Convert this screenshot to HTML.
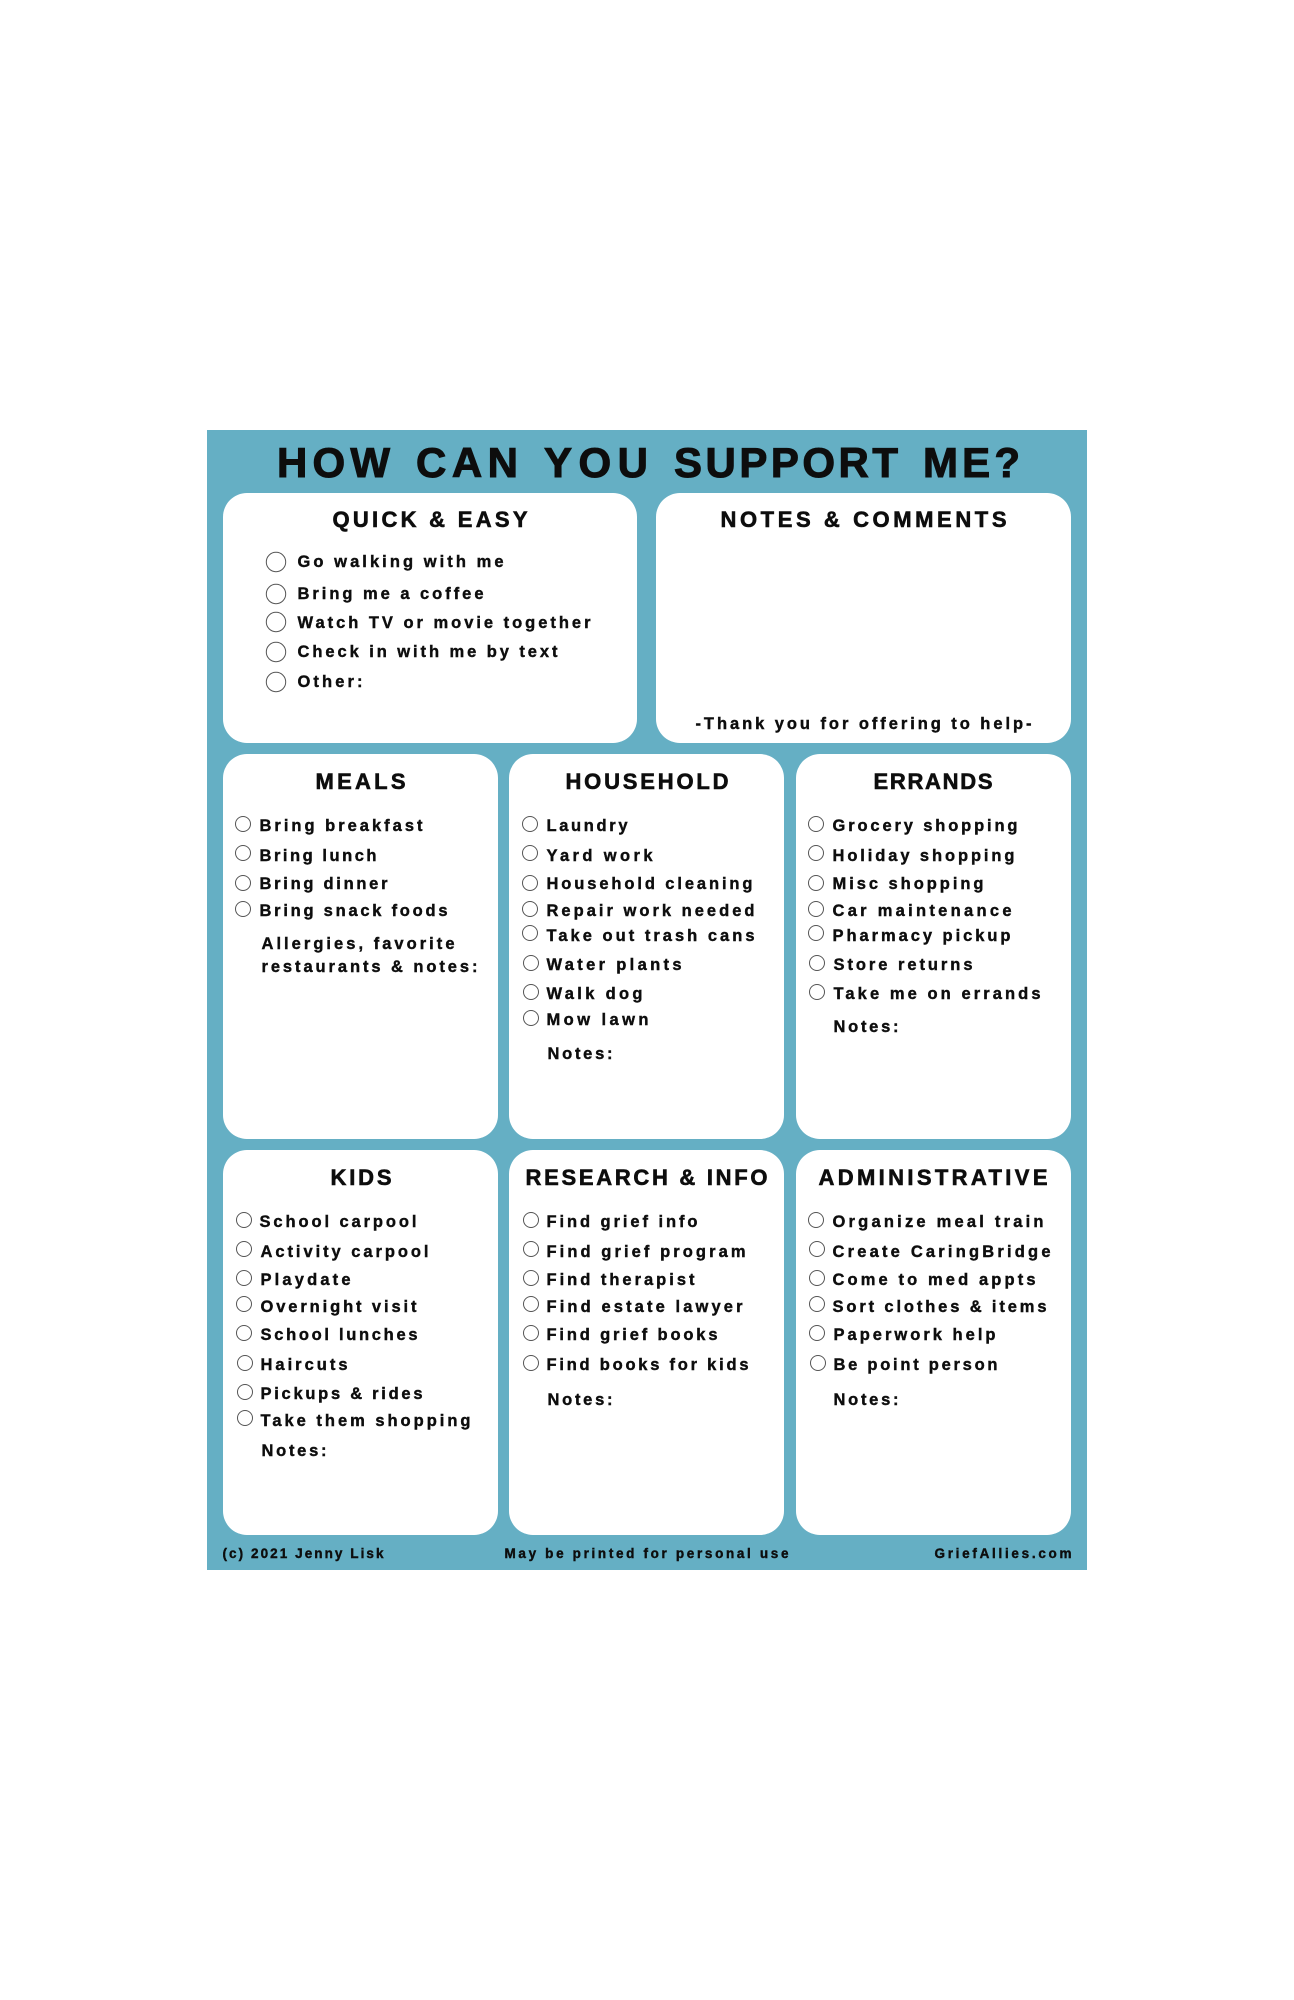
<!DOCTYPE html>
<html><head><meta charset="utf-8">
<style>
html,body{margin:0;padding:0;background:#fff}
svg{display:block}
text{font-family:"Liberation Sans",sans-serif;font-weight:700;fill:#0b0b0b;stroke:#0b0b0b;stroke-width:.4;filter:url(#b);transform:translateX(-.5px)}
.t{font-size:42px;stroke-width:1;transform:translate(0,-1px)}.h{font-size:22px;stroke-width:.6}.i{font-size:16.5px}.f{font-size:13.5px;transform:translate(-.5px,-1px)}
circle{fill:#fff;stroke:#555;stroke-width:1}
rect.c{fill:#fff}
</style></head><body>
<svg width="1294" height="2000" viewBox="0 0 1294 2000" xmlns="http://www.w3.org/2000/svg">
<defs><filter id="b" x="-5%" y="-30%" width="110%" height="160%"><feGaussianBlur stdDeviation="0.35"/></filter></defs>
<rect width="1294" height="2000" fill="#fff"/>
<rect x="207" y="430" width="880" height="1140" fill="#65afc4"/>
<rect class="c" x="223" y="493" width="414" height="250" rx="24"/>
<rect class="c" x="656" y="493" width="415" height="250" rx="24"/>
<rect class="c" x="223" y="754" width="275" height="385" rx="24"/>
<rect class="c" x="509" y="754" width="275" height="385" rx="24"/>
<rect class="c" x="796" y="754" width="275" height="385" rx="24"/>
<rect class="c" x="223" y="1150" width="275" height="385" rx="24"/>
<rect class="c" x="509" y="1150" width="275" height="385" rx="24"/>
<rect class="c" x="796" y="1150" width="275" height="385" rx="24"/>

<text class="t" x="277" y="478" textLength="113">HOW</text>
<text class="t" x="416" y="478" textLength="102">CAN</text>
<text class="t" x="544" y="478" textLength="104">YOU</text>
<text class="t" x="674" y="478" textLength="224">SUPPORT</text>
<text class="t" x="923" y="478" textLength="97">ME?</text>
<text class="h" x="333" y="527" textLength="195">QUICK &amp; EASY</text>
<text class="h" x="721" y="527" textLength="286">NOTES &amp; COMMENTS</text>
<text class="h" x="316" y="789" textLength="90">MEALS</text>
<text class="h" x="566" y="789" textLength="163">HOUSEHOLD</text>
<text class="h" x="874" y="789" textLength="119">ERRANDS</text>
<text class="h" x="331" y="1185" textLength="61">KIDS</text>
<text class="h" x="526" y="1185" textLength="242">RESEARCH &amp; INFO</text>
<text class="h" x="819" y="1185" textLength="229">ADMINISTRATIVE</text>

<g>
<circle cx="276" cy="562" r="9.7"/><circle cx="276" cy="594" r="9.7"/><circle cx="276" cy="622" r="9.7"/><circle cx="276" cy="652" r="9.7"/><circle cx="276" cy="682" r="9.7"/>
<circle cx="243" cy="824" r="7.5"/><circle cx="243" cy="853" r="7.5"/><circle cx="243" cy="883" r="7.5"/><circle cx="243" cy="909" r="7.5"/>
<circle cx="530" cy="824" r="7.5"/><circle cx="530" cy="853" r="7.5"/><circle cx="530" cy="883" r="7.5"/><circle cx="530" cy="909" r="7.5"/><circle cx="530" cy="933" r="7.5"/><circle cx="531" cy="963" r="7.5"/><circle cx="531" cy="992" r="7.5"/><circle cx="531" cy="1018" r="7.5"/>
<circle cx="816" cy="824" r="7.5"/><circle cx="816" cy="853" r="7.5"/><circle cx="816" cy="883" r="7.5"/><circle cx="816" cy="909" r="7.5"/><circle cx="816" cy="933" r="7.5"/><circle cx="817" cy="963" r="7.5"/><circle cx="817" cy="992" r="7.5"/>
<circle cx="244" cy="1220" r="7.5"/><circle cx="244" cy="1249" r="7.5"/><circle cx="244" cy="1278" r="7.5"/><circle cx="244" cy="1304" r="7.5"/><circle cx="244" cy="1333" r="7.5"/><circle cx="245" cy="1363" r="7.5"/><circle cx="245" cy="1392" r="7.5"/><circle cx="245" cy="1418" r="7.5"/>
<circle cx="531" cy="1220" r="7.5"/><circle cx="531" cy="1249" r="7.5"/><circle cx="531" cy="1278" r="7.5"/><circle cx="531" cy="1304" r="7.5"/><circle cx="531" cy="1333" r="7.5"/><circle cx="531" cy="1363" r="7.5"/>
<circle cx="816" cy="1220" r="7.5"/><circle cx="817" cy="1249" r="7.5"/><circle cx="817" cy="1278" r="7.5"/><circle cx="817" cy="1304" r="7.5"/><circle cx="817" cy="1333" r="7.5"/><circle cx="818" cy="1363" r="7.5"/>
</g>

<text class="i" x="298" y="567" textLength="206">Go walking with me</text>
<text class="i" x="298" y="599" textLength="186">Bring me a coffee</text>
<text class="i" x="298" y="628" textLength="293">Watch TV or movie together</text>
<text class="i" x="298" y="657" textLength="260">Check in with me by text</text>
<text class="i" x="298" y="687" textLength="65">Other:</text>
<text class="i" x="696" y="729" textLength="336">-Thank you for offering to help-</text>

<text class="i" x="260" y="831" textLength="163">Bring breakfast</text>
<text class="i" x="260" y="861" textLength="117">Bring lunch</text>
<text class="i" x="260" y="889" textLength="128">Bring dinner</text>
<text class="i" x="260" y="916" textLength="188">Bring snack foods</text>
<text class="i" x="262" y="949" textLength="193">Allergies, favorite</text>
<text class="i" x="262" y="972" textLength="216">restaurants &amp; notes:</text>

<text class="i" x="547" y="831" textLength="81">Laundry</text>
<text class="i" x="547" y="861" textLength="106">Yard work</text>
<text class="i" x="547" y="889" textLength="206">Household cleaning</text>
<text class="i" x="547" y="916" textLength="208">Repair work needed</text>
<text class="i" x="547" y="941" textLength="208">Take out trash cans</text>
<text class="i" x="547" y="970" textLength="135">Water plants</text>
<text class="i" x="547" y="999" textLength="96">Walk dog</text>
<text class="i" x="547" y="1025" textLength="102">Mow lawn</text>
<text class="i" x="548" y="1059" textLength="65">Notes:</text>

<text class="i" x="833" y="831" textLength="185">Grocery shopping</text>
<text class="i" x="833" y="861" textLength="182">Holiday shopping</text>
<text class="i" x="833" y="889" textLength="151">Misc shopping</text>
<text class="i" x="833" y="916" textLength="179">Car maintenance</text>
<text class="i" x="833" y="941" textLength="178">Pharmacy pickup</text>
<text class="i" x="834" y="970" textLength="139">Store returns</text>
<text class="i" x="834" y="999" textLength="207">Take me on errands</text>
<text class="i" x="834" y="1032" textLength="65">Notes:</text>

<text class="i" x="260" y="1227" textLength="157">School carpool</text>
<text class="i" x="261" y="1257" textLength="168">Activity carpool</text>
<text class="i" x="261" y="1285" textLength="90">Playdate</text>
<text class="i" x="261" y="1312" textLength="156">Overnight visit</text>
<text class="i" x="261" y="1340" textLength="157">School lunches</text>
<text class="i" x="261" y="1370" textLength="87">Haircuts</text>
<text class="i" x="261" y="1399" textLength="162">Pickups &amp; rides</text>
<text class="i" x="261" y="1426" textLength="210">Take them shopping</text>
<text class="i" x="262" y="1456" textLength="65">Notes:</text>

<text class="i" x="547" y="1227" textLength="151">Find grief info</text>
<text class="i" x="547" y="1257" textLength="199">Find grief program</text>
<text class="i" x="547" y="1285" textLength="148">Find therapist</text>
<text class="i" x="547" y="1312" textLength="196">Find estate lawyer</text>
<text class="i" x="547" y="1340" textLength="171">Find grief books</text>
<text class="i" x="547" y="1370" textLength="202">Find books for kids</text>
<text class="i" x="548" y="1405" textLength="65">Notes:</text>

<text class="i" x="833" y="1227" textLength="211">Organize meal train</text>
<text class="i" x="833" y="1257" textLength="218">Create CaringBridge</text>
<text class="i" x="833" y="1285" textLength="203">Come to med appts</text>
<text class="i" x="833" y="1312" textLength="214">Sort clothes &amp; items</text>
<text class="i" x="834" y="1340" textLength="162">Paperwork help</text>
<text class="i" x="834" y="1370" textLength="164">Be point person</text>
<text class="i" x="834" y="1405" textLength="65">Notes:</text>

<text class="f" x="223" y="1559" textLength="161">(c) 2021 Jenny Lisk</text>
<text class="f" x="505" y="1559" textLength="284">May be printed for personal use</text>
<text class="f" x="935" y="1559" textLength="137">GriefAllies.com</text>
</svg>
</body></html>
